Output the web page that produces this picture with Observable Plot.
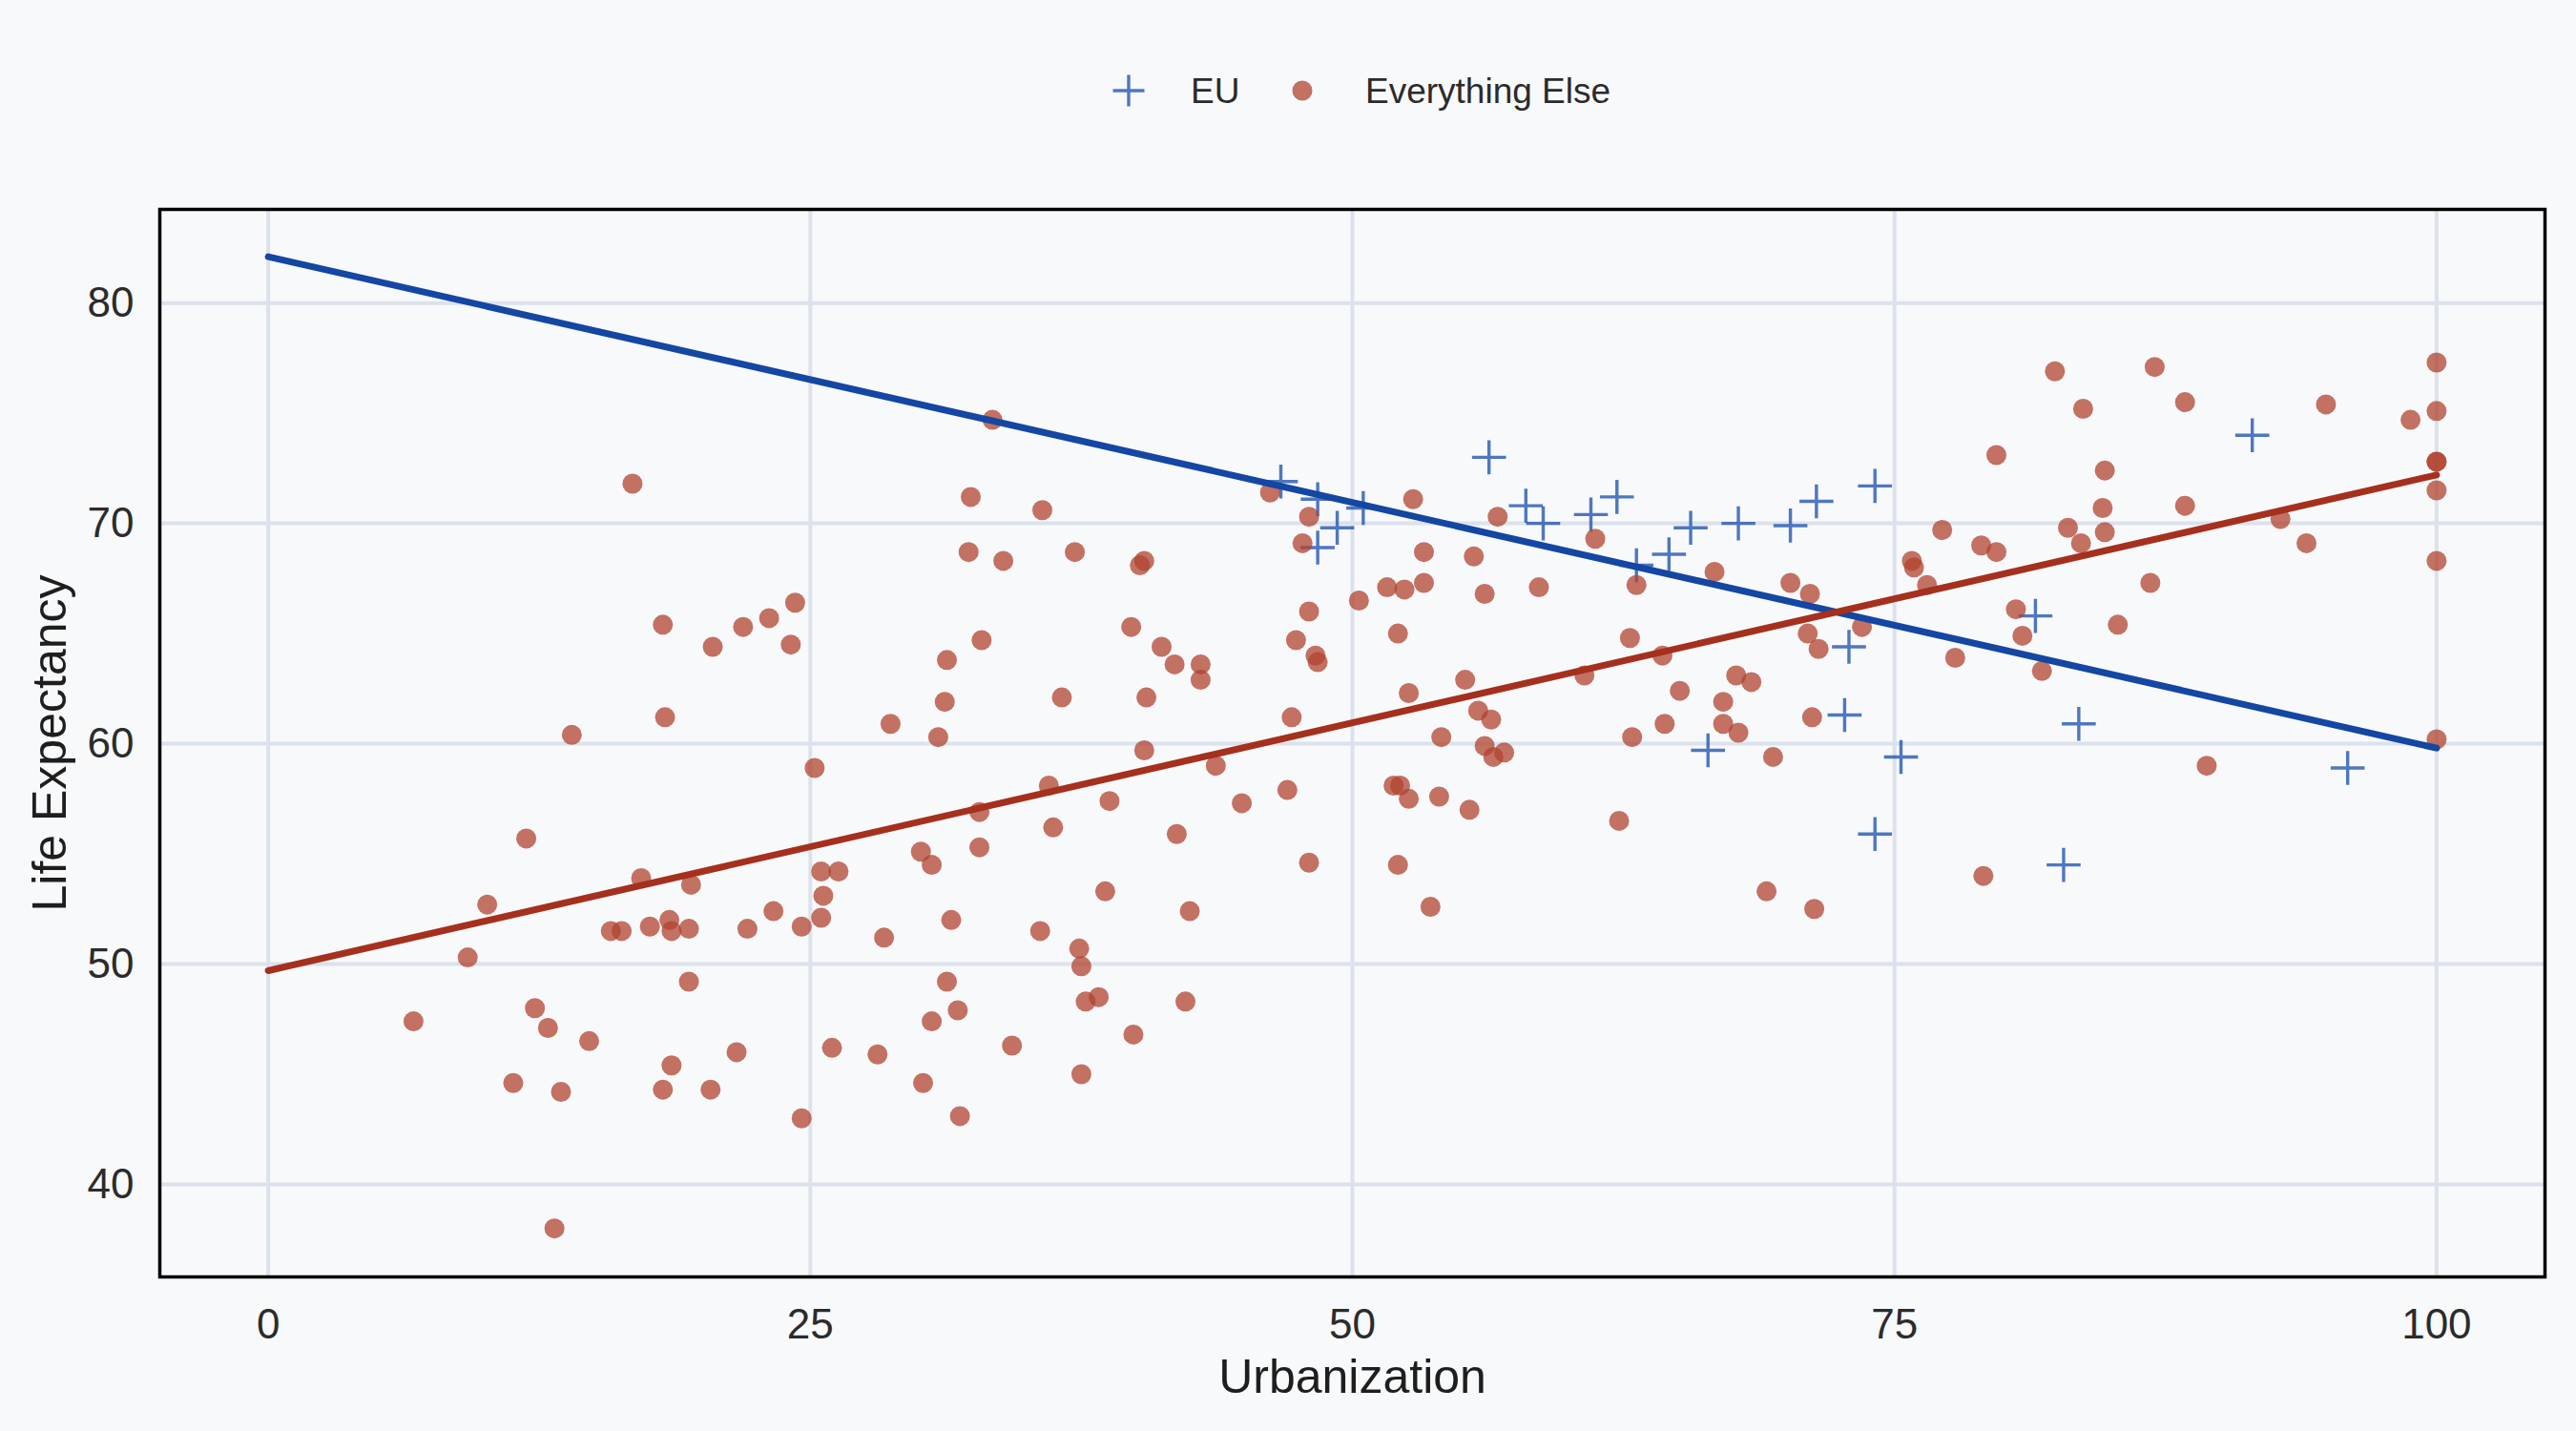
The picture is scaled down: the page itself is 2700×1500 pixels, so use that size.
<!DOCTYPE html>
<html>
<head>
<meta charset="utf-8">
<script src="https://cdn.jsdelivr.net/npm/d3@7"></script>
<script src="https://cdn.jsdelivr.net/npm/@observablehq/plot@0.6"></script>
<style>
  html, body { margin: 0; padding: 0; background: #f8f9fb; }
  #wrap { position: relative; width: 2700px; height: 1500px; background: #f8f9fb;
          font-family: "Liberation Sans", Arial, Helvetica, sans-serif; color: #2b2b2b; }
  #legend { position: absolute; left: 0; top: 0; width: 2700px; height: 170px; }
  #legend .lab { position: absolute; top: 95px; transform: translateY(-50%); font-size: 37px; color: #2b2b2b; line-height: 1; }
  #legend svg { position: absolute; }
  #chart { position: absolute; left: 0; top: 170px; }
</style>
</head>
<body>
<div id="wrap">
  <div id="legend">
    <svg style="left:1165px;top:77px" width="36" height="36"><path d="M18 1.5V34.5M1.5 18H34.5" stroke="#2356b0" stroke-opacity="0.8" stroke-width="3.4" fill="none"/></svg>
    <span class="lab" style="left:1248px">EU</span>
    <svg style="left:1352px;top:82px" width="26" height="26"><circle cx="13" cy="13" r="10.5" fill="#b0432f" fill-opacity="0.75"/></svg>
    <span class="lab" style="left:1431px">Everything Else</span>
  </div>
  <div id="chart"></div>
</div>
<script>
// ---- data ----
const xTicks = [0, 25, 50, 75, 100];
const yTicks = [40, 50, 60, 70, 80];

const euX = [46.7, 48.4, 50.5, 49.3, 48.4, 56.3, 58.0, 58.8, 61.0, 62.2, 63.1, 64.6, 65.6, 67.8, 70.2, 66.4,
             71.4, 74.1, 72.9, 72.7, 75.3, 81.5, 83.5, 74.1, 82.8, 91.5, 95.9];
const euY = [71.9, 71.1, 70.7, 69.8, 68.9, 73.0, 70.8, 70.0, 70.4, 71.2, 68.1, 68.6, 69.8, 70.0, 69.9, 59.7,
             71.0, 71.7, 64.4, 61.3, 59.4, 65.8, 60.9, 55.9, 54.5, 74.0, 58.9];

const otherX = [6.7, 10.1, 9.2, 11.9, 11.3, 12.3, 12.9, 13.5, 13.2, 14.0, 14.8, 15.8, 16.3, 16.8, 17.2, 17.6,
  18.2, 18.3, 18.5, 18.6, 18.6, 18.2, 19.4, 19.4, 19.5, 20.5, 20.4, 21.6, 21.9, 22.1, 23.1, 23.3, 24.1, 24.3,
  24.6, 24.6, 25.2, 25.5, 25.6, 25.5, 26.0, 26.3, 28.1, 28.4, 28.7, 30.1, 30.2, 30.6, 30.6, 30.9, 31.2, 31.3,
  31.3, 31.5, 31.8, 31.9, 32.3, 32.4, 32.8, 32.8, 32.9, 33.4, 33.9, 34.3, 35.6, 35.7, 36.0, 36.2, 36.6, 37.2,
  37.4, 37.5, 37.5, 37.7, 38.3, 38.6, 38.8, 39.8, 39.9, 40.2, 40.4, 40.4, 40.5, 41.2, 41.8, 41.9, 42.3, 42.5,
  43.0, 43.0, 43.7, 44.9, 46.2, 47.0, 47.2, 47.4, 47.7, 48.0, 48.0, 48.0, 48.3, 48.4, 50.3, 51.6, 51.9, 52.1,
  52.1, 52.2, 52.4, 52.6, 52.6, 52.8, 53.3, 53.3, 53.6, 54.0, 54.1, 55.2, 55.4, 55.6, 55.8, 56.1, 56.1, 56.4,
  56.5, 56.7, 57.0, 58.6, 60.7, 61.2, 62.3, 62.8, 62.9, 63.1, 64.3, 64.4, 65.1, 66.7, 67.1, 67.1, 67.7, 67.8,
  68.4, 69.1, 69.4, 70.2, 71.0, 71.1, 71.2, 71.3, 71.5, 73.5, 75.8, 75.9, 76.5, 77.2, 77.8, 79.0, 79.1, 79.7,
  79.7, 80.6, 80.9, 81.8, 82.4, 83.0, 83.6, 83.7, 84.6, 84.7, 84.7, 85.3, 86.8, 87.0, 88.4, 88.4, 89.4, 92.8,
  94.0, 94.9, 98.8, 100, 100, 100, 100, 100, 100, 100];
const otherY = [47.4, 52.7, 50.3, 55.7, 44.6, 48.0, 47.1, 44.2, 38.0, 60.4, 46.5, 51.5, 51.5, 71.8, 53.9, 51.7,
  65.4, 61.2, 52.0, 51.5, 45.4, 44.3, 49.2, 51.6, 53.6, 64.4, 44.3, 46.0, 65.3, 51.6, 65.7, 52.4, 64.5, 66.4,
  51.7, 43.0, 58.9, 54.2, 53.1, 52.1, 46.2, 54.2, 45.9, 51.2, 60.9, 55.1, 44.6, 54.5, 47.4, 60.3, 61.9, 63.8,
  49.2, 52.0, 47.9, 43.1, 68.7, 71.2, 55.3, 56.9, 64.7, 74.7, 68.3, 46.3, 51.5, 70.6, 58.1, 56.2, 62.1, 68.7,
  50.7, 49.9, 45.0, 48.3, 48.5, 53.3, 57.4, 65.3, 46.8, 68.1, 68.3, 59.7, 62.1, 64.4, 63.6, 55.9, 48.3, 52.4,
  63.6, 62.9, 59.0, 57.3, 71.4, 57.9, 61.2, 64.7, 69.1, 54.6, 70.3, 66.0, 64.0, 63.7, 66.5, 67.1, 58.1, 65.0,
  54.5, 58.1, 67.0, 57.5, 62.3, 71.1, 68.7, 67.3, 52.6, 57.6, 60.3, 62.9, 57.0, 68.5, 61.5, 66.8, 59.9, 61.1,
  59.4, 70.3, 59.6, 67.1, 63.1, 69.3, 56.5, 64.8, 60.3, 67.2, 64.0, 60.9, 62.4, 67.8, 61.9, 60.9, 63.1, 60.5,
  62.8, 53.3, 59.4, 67.3, 65.0, 66.8, 61.2, 52.5, 64.3, 65.3, 68.3, 68.0, 67.2, 69.7, 63.9, 69.0, 54.0, 73.1,
  68.7, 66.1, 64.9, 63.3, 76.9, 69.8, 69.1, 75.2, 70.7, 72.4, 69.6, 65.4, 67.3, 77.1, 75.5, 70.8, 59.0, 70.2,
  69.1, 75.4, 74.7, 77.3, 75.1, 72.8, 72.8, 71.5, 68.3, 60.2];

// fitted trend lines (endpoints at x = 0 and x = 100)
const fitX = [0, 100];
const euFit = [82.1, 59.8];
const otherFit = [49.7, 72.2];

// ---- tables built from the arrays ----
const eu = euX.map((x, i) => ({x, y: euY[i]}));
const other = otherX.map((x, i) => ({x, y: otherY[i]}));
const euLine = fitX.map((x, i) => ({x, y: euFit[i]}));
const otherLine = fitX.map((x, i) => ({x, y: otherFit[i]}));

const chart = Plot.plot({
  width: 2700,
  height: 1330,
  marginTop: 49,
  marginBottom: 162,
  marginLeft: 167,
  marginRight: 33,
  x: {domain: [-5, 105]},
  y: {domain: [35.8, 84.25]},
  style: {background: "transparent", fontFamily: "'Liberation Sans', Arial, Helvetica, sans-serif", color: "#2b2b2b", overflow: "visible"},
  marks: [
    Plot.gridX(xTicks, {stroke: "#dbe2ec", strokeOpacity: 1, strokeWidth: 4}),
    Plot.gridY(yTicks, {stroke: "#dbe2ec", strokeOpacity: 1, strokeWidth: 4}),
    Plot.axisX(xTicks, {tickSize: 0, tickPadding: 33, fontSize: 44, label: null, fill: "#2b2b2b"}),
    Plot.axisY(yTicks, {tickSize: 0, tickPadding: 27, fontSize: 44, label: null, fill: "#2b2b2b"}),
    Plot.dot(eu, {x: "x", y: "y", symbol: "plus", r: 11.5, stroke: "#2356b0", strokeWidth: 3.4, strokeOpacity: 0.8}),
    Plot.dot(other, {x: "x", y: "y", r: 10.5, fill: "#b0432f", fillOpacity: 0.75, stroke: "none"}),
    Plot.line(euLine, {x: "x", y: "y", stroke: "#1446a3", strokeWidth: 7}),
    Plot.line(otherLine, {x: "x", y: "y", stroke: "#a5301d", strokeWidth: 7}),
    Plot.frame({stroke: "#000", strokeWidth: 3.5}),
    Plot.text(["Urbanization"], {text: d => d, frameAnchor: "bottom", dy: 105, lineAnchor: "middle", textAnchor: "middle", fontSize: 50, fill: "#1e1e1e"}),
    Plot.text(["Life Expectancy"], {text: d => d, frameAnchor: "left", dx: -115, rotate: -90, lineAnchor: "middle", textAnchor: "middle", fontSize: 50, fill: "#1e1e1e"})
  ]
});
document.getElementById("chart").appendChild(chart);
</script>
</body>
</html>
